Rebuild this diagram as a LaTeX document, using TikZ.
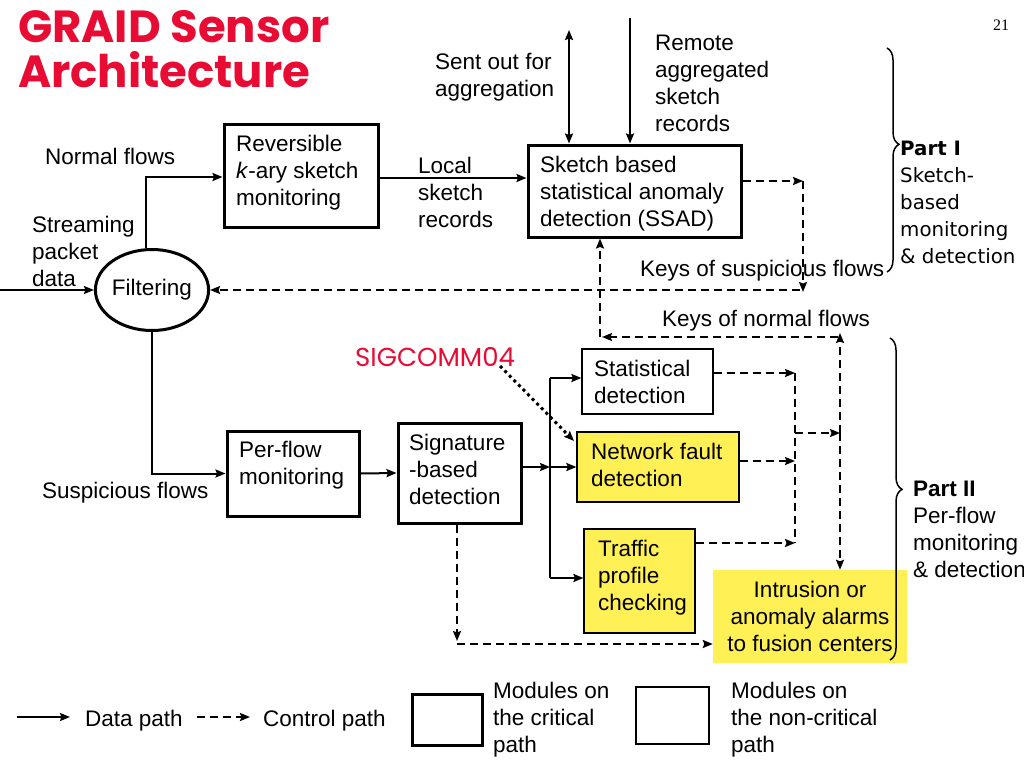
\documentclass[tikz,border=0pt]{standalone}
\usepackage{fontspec}
\setmainfont{Liberation Sans}
\newfontfamily\comicfont{Poppins}
\newfontfamily\tahomafont{DejaVu Sans}
\newfontfamily\serifnum{Liberation Serif}
\usetikzlibrary{arrows.meta,shapes.geometric,decorations.pathreplacing}
\definecolor{titlered}{RGB}{232,12,52}
\definecolor{boxyellow}{RGB}{255,240,85}
\begin{document}
\begin{tikzpicture}[x=1pt,y=-1pt,
  >={Stealth[length=10pt,width=8pt,inset=1.5pt]},
  every node/.style={font=\fontsize{22.5}{27}\selectfont},
  txt/.style={anchor=base west, inner sep=0pt, align=left},
  thickbox/.style={draw, line width=3pt, inner sep=0pt},
  thinbox/.style={draw, line width=1.2pt, inner sep=0pt},
  yellowbox/.style={thinbox, fill=boxyellow},
  data/.style={line width=2pt, ->},
  plain/.style={line width=2pt},
  ctrl/.style={line width=2pt, dash pattern=on 8pt off 5pt, ->},
  ctrlline/.style={line width=2pt, dash pattern=on 8pt off 5pt},
  dotarrow/.style={line width=3pt, dash pattern=on 3pt off 3.5pt, ->},
  bracestyle/.style={line width=1.5pt, decorate, decoration={brace, amplitude=12pt, aspect=#1}}
]
\useasboundingbox (0,0) rectangle (1024,768);

% title and page number (anchor = baseline of last line)
\node[txt, text=titlered, font=\comicfont\bfseries\fontsize{45}{45}\selectfont] (title) at (18,87) {GRAID Sensor\\Architecture};
\node[txt, font=\serifnum\fontsize{16}{18}\selectfont] (pg) at (993,31) {21};

% boxes
\node[thickbox, minimum width=154pt, minimum height=103pt] (rev) at (301,175.5) {};
\node[thickbox, minimum width=213pt, minimum height=92pt] (ssad) at (634.5,191) {};
\node[thickbox, ellipse, minimum width=103pt, minimum height=81pt] (filt) at (152,290) {Filtering};
\node[thickbox, minimum width=132pt, minimum height=85pt] (perflow) at (293,473.5) {};
\node[thickbox, minimum width=123pt, minimum height=100pt] (sig) at (459.5,473) {};
\node[thinbox, minimum width=131pt, minimum height=65pt] (stat) at (647.5,381.5) {};
\node[yellowbox, minimum width=162pt, minimum height=70pt] (netf) at (658,467) {};
\node[yellowbox, minimum width=111pt, minimum height=104pt] (traf) at (639.5,581) {};
\node[fill=boxyellow, inner sep=0pt, minimum width=194pt, minimum height=93pt, align=center] (intr) at (810,616.5) {Intrusion or\\anomaly alarms\\to fusion centers};

% texts inside boxes
\node[txt] (revT) at (236,205) {Reversible\\\textit{k}-ary sketch\\monitoring};
\node[txt] (ssadT) at (540,226) {Sketch based\\statistical anomaly\\detection (SSAD)};
\node[txt] (perT) at (239,484) {Per-flow\\monitoring};
\node[txt] (sigT) at (409,504) {Signature\\-based\\detection};
\node[txt] (statT) at (594,403) {Statistical\\detection};
\node[txt] (netfT) at (591,486) {Network fault\\detection};
\node[txt] (trafT) at (598,610) {Traffic\\profile\\checking};

% free labels
\node[txt] (sentL) at (435,96) {Sent out for\\aggregation};
\node[txt] (remL) at (655,131) {Remote\\aggregated\\sketch\\records};
\node[txt] (localL) at (418,227) {Local\\sketch\\records};
\node[txt] (normL) at (45,164) {Normal flows};
\node[txt] (streamL) at (32,286) {Streaming\\packet\\data};
\node[txt] (susL) at (42,498) {Suspicious flows};
\node[txt] (ksusL) at (640,276) {Keys of suspicious flows};
\node[txt] (knorL) at (662,326) {Keys of normal flows};
\node[txt, text=titlered, font=\comicfont\fontsize{26}{28}\selectfont] (sigc) at (355,366) {SIGCOMM04};
\node[txt, font=\tahomafont\fontsize{19.8}{27}\selectfont] (p1) at (900,263) {\textbf{Part I}\\Sketch-\\based\\monitoring\\\& detection};
\node[txt] (p2) at (913,577) {\textbf{Part II}\\Per-flow\\monitoring\\\& detection};

% data paths, upper part
\coordinate (inL) at (0,290);
\draw[data] (inL) -- (filt.west);
\coordinate (nf) at (146,177);
\draw[data] (filt.north -| nf) -- (nf) -- (nf -| rev.west);
\coordinate (ra) at (0,178);
\draw[data] (rev.east |- ra) -- (ssad.west |- ra);
\coordinate (sentTop) at (569,30);
\draw[line width=2pt, <->] (ssad.north -| sentTop) -- (sentTop);
\coordinate (remTop) at (630,18);
\draw[data] (remTop) -- (ssad.north -| remTop);

% control paths, upper part
\coordinate (k1) at (803,181);
\coordinate (k2) at (803,292);
\coordinate (k3) at (800,290);
\draw[ctrl] (ssad.east |- k1) -- (k1);
\draw[ctrl] (k1) -- (k2);
\draw[ctrl] (k3) -- (filt.east);
\coordinate (n0) at (840,433);
\coordinate (n1) at (840,333);
\coordinate (n2) at (838,337);
\coordinate (n3) at (602,337);
\coordinate (n4) at (600,337);
\draw[ctrl] (n0) -- (n1);
\draw[ctrl] (n0) -- (n0 |- intr.north);
\draw[ctrl] (n2) -- (n3);
\draw[ctrl] (n4) -- (ssad.south -| n4);

% lower part
\draw[data] (filt.south) |- (perflow.west);
\draw[data] (perflow.east) -- (sig.west);
\coordinate (b1) at (550,378);
\coordinate (b2) at (550,467);
\coordinate (b3) at (550,578);
\draw[plain] (b1) -- (b3);
\draw[data] (sig.east |- b2) -- (b2);
\draw[data] (b1) -- (b1 -| stat.west);
\draw[data] (b2) -- (b2 -| netf.west);
\draw[data] (b3) -- (b3 -| traf.west);

\coordinate (c1) at (795,373);
\coordinate (c2) at (795,461);
\coordinate (c3) at (795,543);
\coordinate (cm) at (795,433);
\draw[ctrl] (stat.east |- c1) -- (c1);
\draw[ctrl] (netf.east |- c2) -- (c2);
\draw[ctrl] (traf.east |- c3) -- (c3);
\draw[ctrlline] (c1) -- (c3);
\draw[ctrl] (cm) -- (cm -| n0);

\coordinate (s1) at (457,644);
\coordinate (s0) at (457,641);
\draw[ctrl] (sig.south -| s1) -- (s0);
\draw[ctrl] (s1) -- (s1 -| intr.west);

\coordinate (d1) at (500,366);
\coordinate (d2) at (574,441);
\draw[dotarrow] (d1) -- (d2);

% braces
\coordinate (bI1) at (887,48);
\coordinate (bI2) at (887,272);
\draw[bracestyle=0.43] (bI1) -- (bI2);
\coordinate (bII1) at (890,338);
\coordinate (bII2) at (890,660);
\draw[bracestyle=0.47] (bII1) -- (bII2);

% legend
\coordinate (l1) at (17,717);
\coordinate (l2) at (70,717);
\coordinate (l3) at (197,717);
\coordinate (l4) at (250,717);
\draw[data] (l1) -- (l2);
\draw[ctrl] (l3) -- (l4);
\node[txt] (ldata) at (85,726) {Data path};
\node[txt] (lctrl) at (263,726) {Control path};
\node[thickbox, minimum width=70pt, minimum height=51pt] (lthick) at (447,719.5) {};
\node[thinbox, minimum width=73pt, minimum height=57pt] (lthin) at (672.5,715.5) {};
\node[txt] (lcrit) at (493,752) {Modules on\\the critical\\path};
\node[txt] (lnon) at (731,752) {Modules on\\the non-critical\\path};
\end{tikzpicture}
\end{document}
